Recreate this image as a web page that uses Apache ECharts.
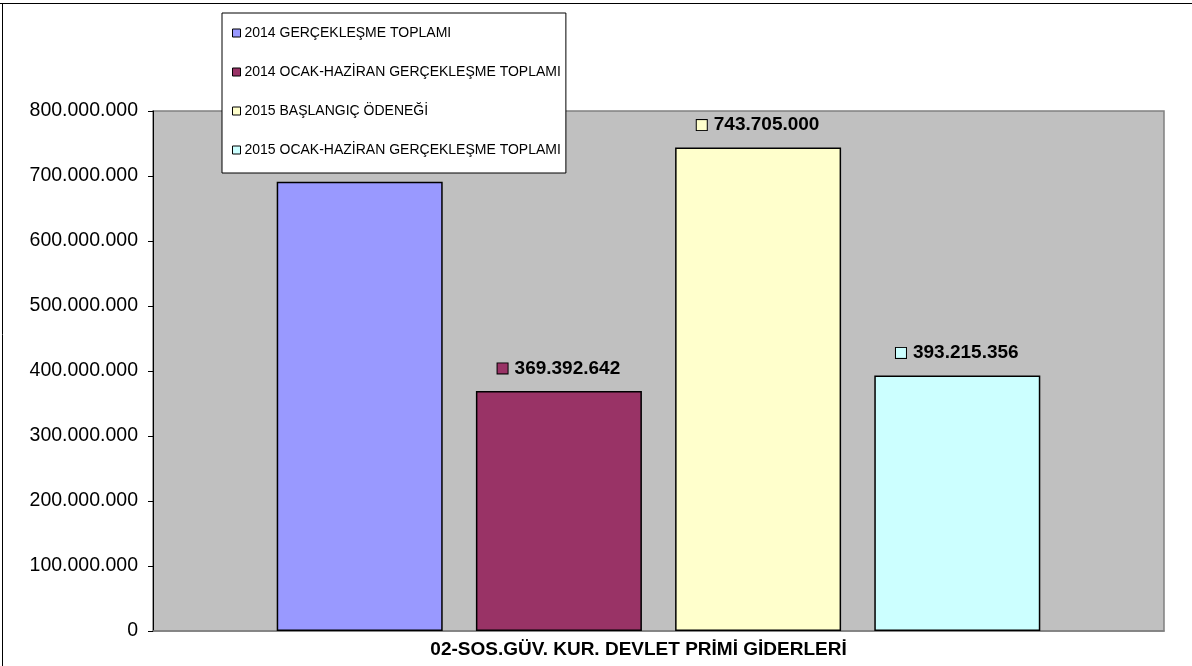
<!DOCTYPE html>
<html>
<head>
<meta charset="utf-8">
<script src="https://cdn.jsdelivr.net/npm/echarts@6/dist/echarts.min.js"></script>
<style>
  html, body { margin: 0; padding: 0; background: #fff; }
  #chart { width: 1192px; height: 666px; }
</style>
</head>
<body>
<div id="chart"></div>
<script>
const categories = ['02-SOS.GÜV. KUR. DEVLET PRİMİ GİDERLERİ']
const seriesNames = [
  '2014 GERÇEKLEŞME TOPLAMI',
  '2014 OCAK-HAZİRAN GERÇEKLEŞME TOPLAMI',
  '2015 BAŞLANGIÇ ÖDENEĞİ',
  '2015 OCAK-HAZİRAN GERÇEKLEŞME TOPLAMI'
]
const seriesValues = [691000000, 369392642, 743705000, 393215356]
const seriesColors = ['#9999ff', '#993366', '#ffffcc', '#ccffff']

const font = "'Liberation Sans', Arial, sans-serif"

// Turkish style thousand separator
const fmt = v => String(Math.round(v)).replace(/\B(?=(\d{3})+(?!\d))/g, '.')

const chart = echarts.init(document.getElementById('chart'), null, { renderer: 'canvas' })

const series = seriesNames.map((name, i) => ({
  name,
  type: 'bar',
  data: [seriesValues[i]],
  barWidth: 166,
  barGap: '20%',
  itemStyle: { color: seriesColors[i], borderColor: '#000', borderWidth: 1.5 },
  label: {
    show: true,
    position: 'top',
    distance: 13,
    formatter: p => '{sq|}{v|' + fmt(p.value) + '}',
    rich: {
      sq: { width: 10, height: 10, backgroundColor: seriesColors[i], borderColor: '#000', borderWidth: 1 },
      v: { fontFamily: font, fontSize: 19, fontWeight: 'bold', color: '#000', padding: [0, 0, 0, 7] }
    }
  }
}))

chart.setOption({
  backgroundColor: '#fff',
  animation: false,
  grid: {
    left: 153, top: 111, right: 28, bottom: 35,
    show: true, backgroundColor: '#c0c0c0', borderColor: '#808080', borderWidth: 1.5
  },
  legend: {
    orient: 'vertical',
    left: 222, top: 13,
    padding: [13, 5, 16, 10],
    itemGap: 25,
    itemWidth: 8, itemHeight: 8,
    icon: 'rect',
    backgroundColor: '#fff',
    borderColor: '#000',
    borderWidth: 1,
    itemStyle: { borderColor: '#000', borderWidth: 1 },
    textStyle: { fontFamily: font, fontSize: 14, color: '#000', lineHeight: 14, padding: [0, 0, 0, -1] },
    data: seriesNames
  },
  xAxis: {
    type: 'category',
    data: categories,
    axisLine: { lineStyle: { color: '#808080', width: 1.5 } },
    axisTick: { show: false },
    axisLabel: { fontFamily: font, fontSize: 19, fontWeight: 'bold', color: '#000', margin: 9, padding: [0, 40, 0, 0] }
  },
  yAxis: {
    type: 'value',
    min: 0, max: 800000000, interval: 100000000,
    axisLine: { show: true, lineStyle: { color: '#000', width: 1 } },
    axisTick: { show: true, length: 5, lineStyle: { color: '#000' } },
    splitLine: { show: false },
    axisLabel: { fontFamily: font, fontSize: 19.5, color: '#000', margin: 15, formatter: v => fmt(v) }
  },
  graphic: [
    { type: 'line', shape: { x1: 0, y1: 3.5, x2: 1192, y2: 3.5 }, style: { stroke: '#000', lineWidth: 1 } },
    { type: 'line', shape: { x1: 2.5, y1: 3, x2: 2.5, y2: 666 }, style: { stroke: '#000', lineWidth: 1 } }
  ],
  series
})
</script>
</body>
</html>
